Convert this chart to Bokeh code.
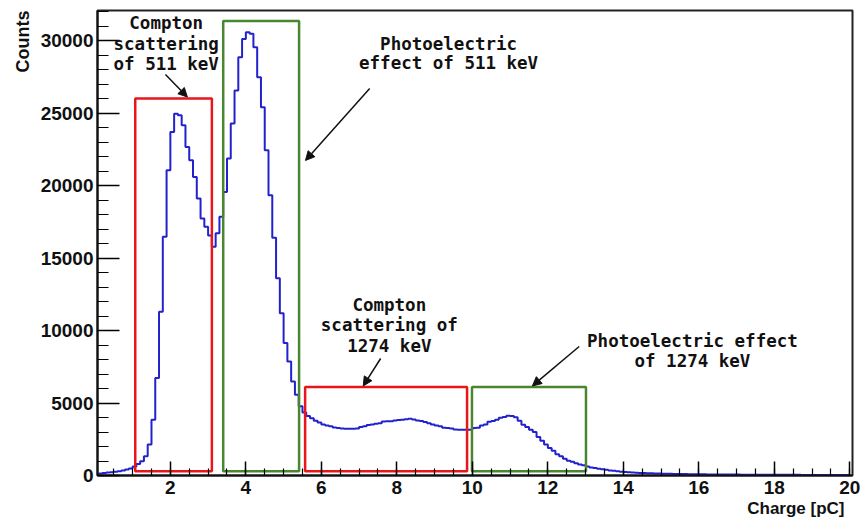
from bokeh.plotting import figure
from bokeh.models import (Range1d, SingleIntervalTicker, Label, Arrow, NormalHead, Title)
from bokeh.embed import file_html
from bokeh.resources import INLINE

# Charge spectrum: 200 bins of 0.1 pC from 0 to 20 pC
bin_width = 0.1
counts = [
    110, 140, 170, 200, 230, 260, 300, 350, 410, 480,
    620, 800, 980, 1330, 2130, 3850, 6720, 11300,
    16465, 21050, 23690, 24950, 24840, 24150, 22660, 21740, 20590, 19100,
    17730, 17150, 16550, 15780, 16700, 17840,
    19560, 21860, 24270, 26560, 28850, 30110, 30570, 30460, 29540, 27470,
    25400, 22430, 19330, 16400, 13600, 11190, 9130, 7860, 6490, 5570, 4770,
    4350, 4100, 3950, 3780, 3650, 3510, 3440, 3390, 3310, 3280,
    3240, 3230, 3230, 3220, 3240, 3350, 3400, 3480, 3520, 3570,
    3600, 3720, 3740, 3740, 3790, 3820, 3850, 3880, 3920, 3860,
    3800, 3760, 3690, 3600, 3520, 3450, 3400, 3300, 3280, 3250,
    3180, 3160, 3160, 3150, 3160, 3280, 3300, 3450, 3520, 3700,
    3760, 3850, 3980, 4030, 4120, 4100, 4020, 3780, 3500, 3350,
    3150, 3000, 2650, 2400, 2130, 1900, 1700, 1470, 1320, 1150,
    1020, 950, 850, 760, 700, 620, 560,
    510, 470, 430, 390, 350, 320, 290, 265, 245, 225,
    210, 195, 180, 170, 160, 150, 140, 135, 128, 120,
    115, 110, 105, 100, 96, 92, 88, 85, 82, 80,
    77, 75, 72, 70, 68, 66, 64, 62, 61, 60,
    58, 57, 55, 54, 53, 52, 51, 50, 49, 48,
    47, 46, 45, 45, 44, 43, 42, 42, 41, 40,
    40, 39, 38, 38, 37, 36, 36, 35,
]
edges = [round(i * bin_width, 2) for i in range(len(counts) + 1)]

# Selection windows (charge from, charge to, height)
red_left = [1.07, 5.57]
red_right = [3.10, 9.86]
red_top = [26000, 6100]
green_left = [3.40, 9.99]
green_right = [5.41, 13.01]
green_top = [31350, 6100]
window_bottom = 300

x_ticks_interval = 2
y_ticks_interval = 5000

p = figure(width=860, height=520, output_backend="svg", toolbar_location=None,
           x_range=Range1d(0.07, 20.07), y_range=Range1d(0, 32070),
           min_border_left=97, min_border_right=8, min_border_top=10,
           min_border_bottom=45)
p.background_fill_color = "white"
p.border_fill_color = "white"
p.grid.visible = False
p.outline_line_color = "#222222"
p.outline_line_width = 2

p.xaxis.ticker = SingleIntervalTicker(interval=x_ticks_interval, num_minor_ticks=4)
p.yaxis.ticker = SingleIntervalTicker(interval=y_ticks_interval, num_minor_ticks=5)
for ax in (p.xaxis[0], p.yaxis[0]):
    ax.axis_line_width = 2
    ax.axis_line_color = "#111111"
    ax.major_tick_out = 0
    ax.minor_tick_out = 0
    ax.major_tick_line_width = 1.5
    ax.minor_tick_line_width = 1.2
    ax.major_label_text_font = "Liberation Sans"
    ax.major_label_text_font_style = "bold"
    ax.major_label_text_font_size = "19px"
    ax.major_label_text_color = "#111111"
p.yaxis.major_tick_in = 22
p.yaxis.minor_tick_in = 11
p.xaxis.major_tick_in = 14
p.xaxis.minor_tick_in = 7
p.yaxis.major_label_standoff = 4
p.xaxis.major_label_standoff = 5

# axis titles, ROOT style at the far ends of the axes
p.add_layout(Title(text="Counts", align="right", text_font="Liberation Sans",
                   text_font_style="bold", text_font_size="18px",
                   text_color="#111111", standoff=10, offset=0), "left")
p.add_layout(Title(text="Charge [pC]", align="right", text_font="Liberation Sans",
                   text_font_style="bold", text_font_size="17px",
                   text_color="#111111", standoff=0, offset=8), "below")

# histogram outline
p.step(x=edges, y=counts + [counts[-1]], mode="after",
       line_color="#2222cc", line_width=2)

# charge windows
p.quad(left=red_left, right=red_right, top=red_top, bottom=window_bottom,
       fill_alpha=0, line_color="#e8161b", line_width=2.5)
p.quad(left=green_left, right=green_right, top=green_top, bottom=window_bottom,
       fill_alpha=0, line_color="#4a8530", line_width=2.5)

def note(x, y, text):
    p.add_layout(Label(x=x, y=y, text=text, text_font="DejaVu Sans Mono",
                       text_font_style="bold", text_font_size="17.5px",
                       text_color="#111111", text_align="center",
                       text_baseline="middle"))

def arrow(x0, y0, x1, y1):
    p.add_layout(Arrow(end=NormalHead(size=9, fill_color="#111111",
                                      line_color="#111111"),
                       x_start=x0, y_start=y0, x_end=x1, y_end=y1,
                       line_width=1.5, line_color="#111111"))

note(1.89, 31240, "Compton")
note(1.89, 29790, "scattering")
note(1.89, 28410, "of 511 keV")
arrow(1.87, 27660, 2.45, 26100)

note(9.37, 29730, "Photoelectric")
note(9.37, 28420, "effect of 511 keV")
arrow(7.28, 26690, 5.58, 21730)

note(7.80, 11790, "Compton")
note(7.80, 10350, "scattering of")
note(7.80, 8900, "1274 keV")
arrow(7.57, 8070, 7.11, 6180)

note(15.83, 9310, "Photoelectric effect")
note(15.83, 7930, "of 1274 keV")
arrow(12.83, 8900, 11.59, 6180)

open("out.html", "w").write(file_html(p, INLINE))
